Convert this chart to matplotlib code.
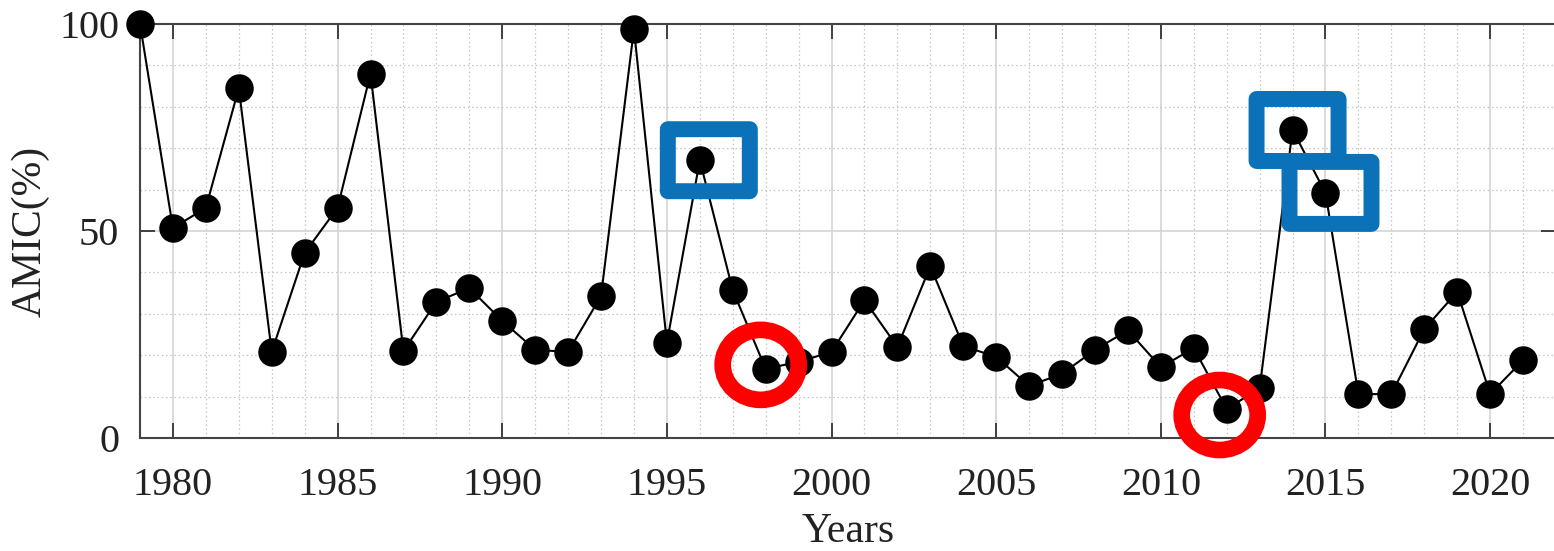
import matplotlib
matplotlib.use("Agg")
import matplotlib.pyplot as plt
from matplotlib.patches import FancyBboxPatch, Ellipse
from matplotlib.ticker import MultipleLocator

years = list(range(1979, 2022))
amic = [100, 50.7, 55.6, 84.5, 20.8, 44.7, 55.6, 88.0, 21.0, 32.9,
        36.2, 28.3, 21.3, 20.8, 34.3, 98.8, 23.0, 67.1, 35.7, 16.7,
        18.4, 20.8, 33.3, 22.0, 41.5, 22.2, 19.6, 12.6, 15.5, 21.3,
        26.0, 17.1, 21.7, 7.0, 12.0, 74.4, 59.2, 10.6, 10.6, 26.3,
        35.3, 10.6, 18.8]
x_ticks = [1980, 1985, 1990, 1995, 2000, 2005, 2010, 2015, 2020]
y_ticks = [0, 50, 100]
boxed_years = [1996, 2014, 2015]
circled_years = [1998, 2012]

plt.rcParams['font.family'] = ['Liberation Serif', 'DejaVu Serif']

W, H = 1554, 551
fig = plt.figure(figsize=(W / 100, H / 100), dpi=100)
ax_l, ax_r, ax_t, ax_b = 140, 1556, 24, 438
ax = fig.add_axes([ax_l / W, 1 - ax_b / H, (ax_r - ax_l) / W, (ax_b - ax_t) / H])

ax.set_xlim(1979, 2022)
ax.set_ylim(0, 100)

ax.plot(years, amic, color='black', lw=1.5, marker='o', markersize=19.5,
        markerfacecolor='black', markeredgecolor='black', clip_on=False, zorder=5)

ax.set_xticks(x_ticks)
ax.set_yticks(y_ticks)
ax.xaxis.set_minor_locator(MultipleLocator(1))
ax.yaxis.set_minor_locator(MultipleLocator(10))
ax.grid(which='major', color='#d4d4d4', lw=1.2, ls='-')
ax.grid(which='minor', color='#c4c4c4', lw=0.9, ls=(0, (1.2, 2.2)))
ax.set_axisbelow(True)

ax.tick_params(which='major', direction='in', length=11, width=1.3,
               color='#333333', top=True, right=True, labelsize=29)
ax.tick_params(axis='x', which='major', pad=21)
ax.tick_params(axis='y', which='major', pad=15)
ax.tick_params(which='minor', length=0, top=True, right=True)
for sp in ax.spines.values():
    sp.set_color('#444444')
    sp.set_linewidth(1.5)

ax.set_xlabel('Years', fontsize=30, color='#222222', va='bottom')
ax.set_ylabel('AMIC(%)', fontsize=30, color='#222222', va='center')
ax.xaxis.set_label_coords(0.5, (ax_b - 551) / (ax_b - ax_t))
ax.yaxis.set_label_coords((30 - ax_l) / (ax_r - ax_l), 0.5)
for lab in ax.get_xticklabels() + ax.get_yticklabels():
    lab.set_color('#222222')

# highlight annotations
xs = (ax_r - ax_l) / 43.0   # px per year
ys = (ax_b - ax_t) / 100.0  # px per unit
val = dict(zip(years, amic))
bw, bh = 82 / xs, 62 / ys
box_shift = {1996: 9, 2014: 5, 2015: 5}
for yr in boxed_years:
    cx, cy = yr + box_shift[yr] / xs, val[yr]
    p = FancyBboxPatch((cx - bw / 2, cy - bh / 2), bw, bh,
                       boxstyle='round,pad=0,rounding_size=0.05',
                       fill=False, edgecolor='#0B72B9', lw=11.5,
                       joinstyle='round', clip_on=False, zorder=6,
                       mutation_aspect=ys / xs)
    ax.add_patch(p)

ew, eh = 76 / xs, 70 / ys
circ_shift = {1998: (-5, 4), 2012: (-7, -6)}
for yr in circled_years:
    dx, dy = circ_shift[yr]
    cx, cy = yr + dx / xs, val[yr] + dy / ys
    e = Ellipse((cx, cy), ew, eh, fill=False, edgecolor='#FF0000', lw=12,
                clip_on=False, zorder=6)
    ax.add_patch(e)

fig.savefig('out.png', dpi=100)
